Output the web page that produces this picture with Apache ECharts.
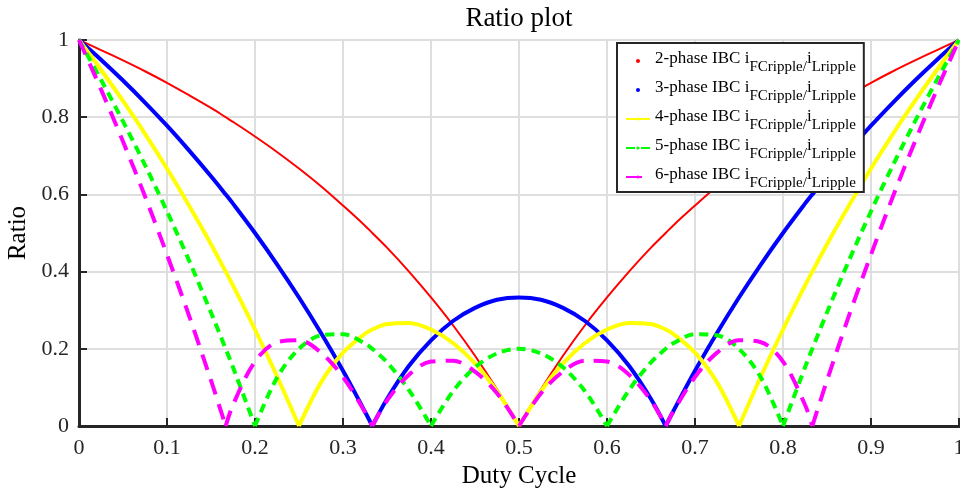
<!DOCTYPE html>
<html>
<head>
    <meta charset="utf-8">
    <title>Ratio plot</title>
    <script src="https://cdn.jsdelivr.net/npm/echarts@6/dist/echarts.min.js"></script>
    <style>
        html, body { margin: 0; padding: 0; background: #fff; }
    </style>
</head>
<body>
    <div id="main" style="width: 960px;height:502px;"></div>
    <script type="text/javascript">
        // duty cycle samples (cusp points 1/6, 1/3, 2/3, 5/6 included)
        var duty = [0, 0.025, 0.05, 0.075, 0.1, 0.125, 0.15, 0.1667, 0.175, 0.2, 0.225, 0.25, 0.275, 0.3, 0.325, 0.3333,
            0.35, 0.375, 0.4, 0.425, 0.45, 0.475, 0.5, 0.525, 0.55, 0.575, 0.6, 0.625, 0.65, 0.6667, 0.675, 0.7,
            0.725, 0.75, 0.775, 0.8, 0.825, 0.8333, 0.85, 0.875, 0.9, 0.925, 0.95, 0.975, 1];
        var ratio2 = [1, 0.974, 0.947, 0.919, 0.889, 0.857, 0.824, 0.800, 0.788, 0.750, 0.710, 0.667, 0.621, 0.571, 0.519, 0.500,
            0.462, 0.400, 0.333, 0.261, 0.182, 0.095, 0, 0.095, 0.182, 0.261, 0.333, 0.400, 0.462, 0.500, 0.519, 0.571,
            0.621, 0.667, 0.710, 0.750, 0.788, 0.800, 0.824, 0.857, 0.889, 0.919, 0.947, 0.974, 1];
        var ratio3 = [1, 0.949, 0.895, 0.838, 0.778, 0.714, 0.647, 0.600, 0.576, 0.500, 0.419, 0.333, 0.241, 0.143, 0.037, 0,
            0.070, 0.156, 0.222, 0.272, 0.306, 0.327, 0.333, 0.327, 0.306, 0.272, 0.222, 0.156, 0.070, 0, 0.037, 0.143,
            0.241, 0.333, 0.419, 0.500, 0.576, 0.600, 0.647, 0.714, 0.778, 0.838, 0.895, 0.949, 1];
        var ratio4 = [1, 0.923, 0.842, 0.757, 0.667, 0.571, 0.471, 0.400, 0.364, 0.250, 0.129, 0, 0.113, 0.190, 0.239, 0.250,
            0.264, 0.267, 0.250, 0.215, 0.162, 0.090, 0, 0.090, 0.162, 0.215, 0.250, 0.267, 0.264, 0.250, 0.239, 0.190,
            0.113, 0, 0.129, 0.250, 0.364, 0.400, 0.471, 0.571, 0.667, 0.757, 0.842, 0.923, 1];
        var ratio5 = [1, 0.897, 0.789, 0.676, 0.556, 0.429, 0.294, 0.200, 0.152, 0, 0.125, 0.200, 0.235, 0.238, 0.214, 0.200,
            0.165, 0.093, 0, 0.090, 0.152, 0.188, 0.200, 0.188, 0.152, 0.090, 0, 0.093, 0.165, 0.200, 0.214, 0.238,
            0.235, 0.200, 0.125, 0, 0.152, 0.200, 0.294, 0.429, 0.556, 0.676, 0.789, 0.897, 1];
        var ratio6 = [1, 0.872, 0.737, 0.595, 0.444, 0.286, 0.118, 0, 0.055, 0.167, 0.217, 0.222, 0.190, 0.127, 0.036, 0,
            0.066, 0.133, 0.167, 0.169, 0.141, 0.085, 0, 0.085, 0.141, 0.169, 0.167, 0.133, 0.066, 0, 0.036, 0.127,
            0.190, 0.222, 0.217, 0.167, 0.055, 0, 0.118, 0.286, 0.444, 0.595, 0.737, 0.872, 1];
        var names = ['2-phase IBC', '3-phase IBC', '4-phase IBC', '5-phase IBC', '6-phase IBC'];

        var serif = '"Liberation Serif", "Times New Roman", serif';
        var dark = '#262626';
        var myChart = echarts.init(document.getElementById('main'));

        // the zeros are cusps, so each curve is cut there into smooth arches
        function arches(arr) {
            var segs = [], cur = [];
            duty.forEach(function (d, i) {
                cur.push([d, arr[i]]);
                if (arr[i] === 0 && i > 0 && i < duty.length - 1) {
                    segs.push(cur);
                    cur = [[d, arr[i]]];
                }
            });
            segs.push(cur);
            return segs;
        }
        var series = [];
        function addCurve(name, arr, color, width, type, symbol) {
            arches(arr).forEach(function (seg) {
                series.push({
                    name: name,
                    type: 'line',
                    data: seg,
                    smooth: 0.33,
                    symbol: symbol || 'none',
                    showSymbol: false,
                    symbolSize: 4,
                    color: color,
                    lineStyle: { color: color, width: width, type: type || 'solid' },
                    itemStyle: { color: color },
                    emphasis: { disabled: true },
                    animation: false
                });
            });
        }
        addCurve(names[0], ratio2, '#ff0000', 2);
        addCurve(names[1], ratio3, '#0000ff', 4);
        addCurve(names[2], ratio4, '#ffff00', 4, 'solid', 'circle');
        addCurve(names[3], ratio5, '#00ff00', 4, [9, 6]);
        addCurve(names[4], ratio6, '#ff00ff', 4, [16, 10]);

        var option = {
            backgroundColor: '#fff',
            title: {
                text: 'Ratio plot',
                left: 519,
                top: 5,
                padding: 0,
                textAlign: 'center',
                textStyle: { fontFamily: serif, fontSize: 27, fontWeight: 'normal', color: '#000' }
            },
            grid: { left: 79, right: 1, top: 40, bottom: 76, containLabel: false, outerBoundsMode: 'none' },
            legend: {
                orient: 'vertical',
                left: 617,
                top: 43,
                padding: [7, 8, 1, 8],
                itemGap: 4,
                itemWidth: 24,
                itemHeight: 4,
                backgroundColor: '#fff',
                borderColor: dark,
                borderWidth: 2,
                borderRadius: 0,
                data: [
                    { name: names[0], icon: 'circle' },
                    { name: names[1], icon: 'circle' },
                    { name: names[2] },
                    { name: names[3] },
                    { name: names[4] }
                ],
                formatter: function (name) {
                    return '{n|' + name + ' i}{s|FCripple/}{n|i}{s|Lripple}';
                },
                textStyle: {
                    fontFamily: serif,
                    color: '#000',
                    rich: {
                        n: { fontFamily: serif, fontSize: 17, color: '#000', verticalAlign: 'top', padding: [3, 0, 0, 0] },
                        s: { fontFamily: serif, fontSize: 15, color: '#000', verticalAlign: 'top', padding: [13, 0, 0, 0] }
                    }
                }
            },
            xAxis: {
                type: 'value',
                min: 0,
                max: 1,
                interval: 0.1,
                name: 'Duty Cycle',
                nameLocation: 'middle',
                nameGap: 30,
                nameTextStyle: { fontFamily: serif, fontSize: 25, color: '#000' },
                axisLine: { show: true, lineStyle: { color: dark, width: 3 } },
                axisTick: { show: true, inside: true, length: 8, lineStyle: { color: dark, width: 2 } },
                axisLabel: { fontFamily: serif, fontSize: 22, color: '#262626', margin: 11 },
                splitLine: { show: true, lineStyle: { color: '#dedede', width: 2 } }
            },
            yAxis: {
                type: 'value',
                min: 0,
                max: 1,
                interval: 0.2,
                name: 'Ratio',
                nameLocation: 'middle',
                nameGap: 48,
                nameTextStyle: { fontFamily: serif, fontSize: 25, color: '#000' },
                axisLine: { show: true, lineStyle: { color: dark, width: 3 } },
                axisTick: { show: true, inside: true, length: 8, lineStyle: { color: dark, width: 2 } },
                axisLabel: { fontFamily: serif, fontSize: 22, color: '#262626', margin: 10 },
                splitLine: { show: true, lineStyle: { color: '#dedede', width: 2 } }
            },
            series: series
        };
        myChart.setOption(option);
    </script>
</body>
</html>
